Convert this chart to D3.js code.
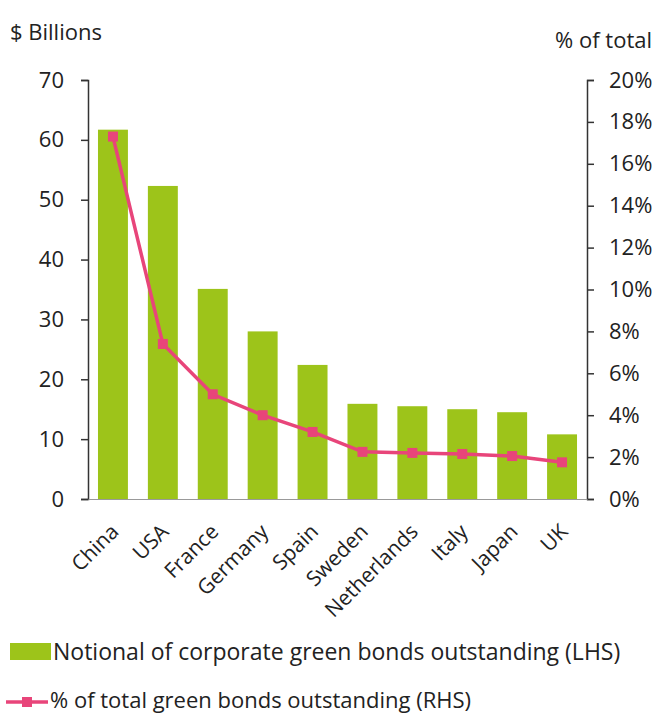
<!DOCTYPE html>
<html>
<head>
<meta charset="utf-8">
<script src="https://cdn.jsdelivr.net/npm/d3@7"></script>
<style>
  html, body { margin: 0; padding: 0; background: #fff; }
  svg { display: block; font-family: "Open Sans", Lato, sans-serif; }
</style>
</head>
<body>
<svg id="chart" width="658" height="715"></svg>
<script>
// Corporate green bonds by country
const countries = ["China", "USA", "France", "Germany", "Spain", "Sweden", "Netherlands", "Italy", "Japan", "UK"];
const notionalBn = [61.7, 52.3, 35.1, 28.0, 22.4, 15.9, 15.5, 15.0, 14.5, 10.8];
const shareOfTotal = [17.3, 7.4, 5.0, 4.0, 3.2, 2.25, 2.2, 2.15, 2.05, 1.75];
const leftTicks = [0, 10, 20, 30, 40, 50, 60, 70];
const rightTicks = [0, 2, 4, 6, 8, 10, 12, 14, 16, 18, 20];
const legendLabels = [
  "Notional of corporate green bonds outstanding (LHS)",
  "% of total green bonds outstanding (RHS)"
];

const green = "#9dc41a";
const pink = "#e8457a";
const textColor = "#222";
const font = "'Open Sans', sans-serif";

const svg = d3.select("#chart");
const plot = { left: 88, right: 587, top: 80, bottom: 499 };

const x = d3.scaleBand().domain(countries).range([plot.left, plot.right]).paddingInner(0.4).paddingOuter(0.2);
const yL = d3.scaleLinear().domain([0, 70]).range([plot.bottom, plot.top]);
const yR = d3.scaleLinear().domain([0, 20]).range([plot.bottom, plot.top]);

// Bars
svg.append("g").selectAll("rect").data(countries).join("rect")
  .attr("x", d => x(d))
  .attr("width", x.bandwidth())
  .attr("y", (d, i) => yL(notionalBn[i]))
  .attr("height", (d, i) => yL(0) - yL(notionalBn[i]))
  .attr("fill", green);

// Left axis
const gL = svg.append("g").attr("transform", `translate(${plot.left},0)`)
  .call(d3.axisLeft(yL).tickValues(leftTicks).tickSize(7).tickPadding(17).tickFormat(d3.format("d")));
// Right axis
const gR = svg.append("g").attr("transform", `translate(${plot.right},0)`)
  .call(d3.axisRight(yR).tickValues(rightTicks).tickSize(7).tickPadding(15).tickFormat(d => d + "%"));
[gL, gR].forEach(g => {
  g.select(".domain").attr("stroke", "#333").attr("stroke-width", 1.5);
  g.selectAll(".tick line").attr("stroke", "#333").attr("stroke-width", 1.5);
  g.selectAll(".tick text").attr("fill", textColor).attr("font-size", 22).style("font-family", font);
});

// Bottom axis with rotated labels
const gX = svg.append("g").attr("transform", `translate(0,${plot.bottom})`)
  .call(d3.axisBottom(x).tickSize(0).tickPadding(0).tickSizeOuter(0));
gX.select(".domain").attr("stroke", "#999").attr("stroke-width", 1);
gX.selectAll(".tick text")
  .attr("fill", textColor).attr("font-size", 21).style("font-family", font)
  .attr("text-anchor", "end")
  .attr("x", 0).attr("y", 0).attr("dy", 0)
  .attr("transform", "translate(7,34) rotate(-45)");

// Share line with square markers
const line = d3.line().x((d, i) => x(countries[i]) + x.bandwidth() / 2).y(d => yR(d));
svg.append("path").datum(shareOfTotal)
  .attr("d", line).attr("fill", "none").attr("stroke", pink).attr("stroke-width", 3.5);
svg.append("g").selectAll("rect").data(shareOfTotal).join("rect")
  .attr("x", (d, i) => x(countries[i]) + x.bandwidth() / 2 - 5)
  .attr("y", d => yR(d) - 5)
  .attr("width", 10).attr("height", 10)
  .attr("fill", pink);

// Axis titles
svg.append("text").attr("x", 10).attr("y", 40).attr("font-size", 22).attr("fill", textColor).text("$ Billions");
svg.append("text").attr("x", 652).attr("y", 48).attr("font-size", 22).attr("fill", textColor)
  .attr("text-anchor", "end").text("% of total");

// Legend
const leg = svg.append("g");
leg.append("rect").attr("x", 10).attr("y", 643).attr("width", 41).attr("height", 17).attr("fill", green);
leg.append("text").attr("x", 53).attr("y", 660).attr("font-size", 23).attr("fill", textColor).text(legendLabels[0]);
leg.append("line").attr("x1", 6).attr("x2", 48).attr("y1", 702).attr("y2", 702).attr("stroke", pink).attr("stroke-width", 3.5);
leg.append("rect").attr("x", 22).attr("y", 697).attr("width", 10).attr("height", 10).attr("fill", pink);
leg.append("text").attr("x", 50).attr("y", 708).attr("font-size", 22).attr("fill", textColor).text(legendLabels[1]);
</script>
</body>
</html>
